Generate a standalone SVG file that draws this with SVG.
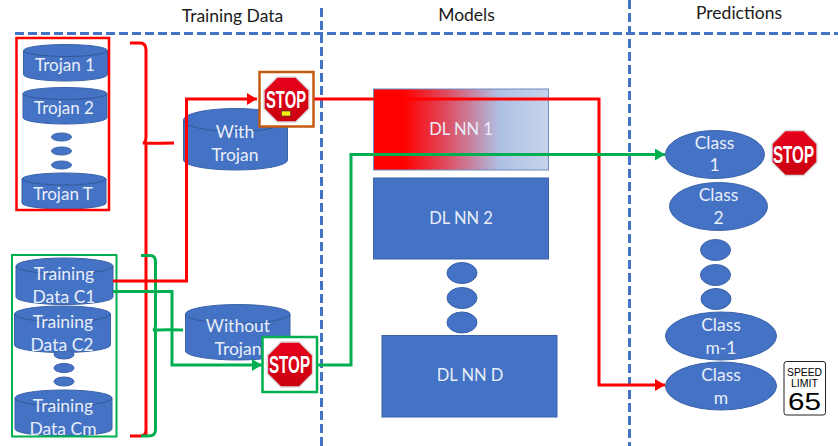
<svg xmlns="http://www.w3.org/2000/svg" width="838" height="446" viewBox="0 0 838 446">
<style>
text{font-family:Lato,"Liberation Sans",sans-serif}
.h{font-size:17.500px;fill:#1a1a1a;text-anchor:middle}
.t{font-size:17.500px;fill:#e8eefa;text-anchor:middle}
.m{font-size:16.500px}
.j{font-size:17px}
.b{fill:#4472C4;stroke:#3A62A8;stroke-width:1}
.lid{fill:none;stroke:#2F528F;stroke-width:.8}
.dash{fill:none;stroke:#4472C4;stroke-width:3;stroke-dasharray:9 4}
.r{fill:none;stroke:#FF0000;stroke-width:3}
.g{fill:none;stroke:#00B050;stroke-width:3}
.st{font-family:"Liberation Sans",sans-serif;font-weight:700;fill:#fff;text-anchor:middle;font-size:23px}
.sl{font-family:"Liberation Sans",sans-serif;fill:#000;text-anchor:middle}
</style>
<defs>
<marker id="ar" markerUnits="userSpaceOnUse" markerWidth="11" markerHeight="12" refX="10" refY="6" orient="auto"><path d="M0 0L10 6L0 12Z" fill="#FF0000"/></marker>
<marker id="ag" markerUnits="userSpaceOnUse" markerWidth="11" markerHeight="12" refX="10" refY="6" orient="auto"><path d="M0 0L10 6L0 12Z" fill="#00B050"/></marker>
<linearGradient id="nn" x1="0" x2="1" y1="0" y2="0"><stop offset=".17" stop-color="#FF0000"/><stop offset=".42" stop-color="#DE4D62"/><stop offset=".72" stop-color="#AEC0E5"/><stop offset="1" stop-color="#C6D3EB"/></linearGradient>
<linearGradient id="sr" x1="0" x2="0" y1="0" y2="1"><stop offset="0" stop-color="#E8001C"/><stop offset="1" stop-color="#C9000F"/></linearGradient>
<symbol id="oct" viewBox="0 0 48 48" overflow="visible"><path d="M14.500 1H33.500L47 14.500V33.500L33.500 47H14.500L1 33.500V14.500Z" fill="url(#sr)" stroke="#DADADA" stroke-width="1.500"/></symbol>
</defs>

<g id="dividers">
<path class="dash" d="M15 33.500H838"/>
<path class="dash" d="M321.500 8V446"/>
<path class="dash" d="M629.500 0V446"/>
</g>
<text class="h" x="232.500" y="22">Training Data</text>
<text class="h" x="466.500" y="21">Models</text>
<text class="h" x="739" y="19">Predictions</text>

<g id="trojan-1"><path class="b" d="M23.500 50.500A42 6 0 0 1 107.500 50.500V74.500A42 6.500 0 0 1 23.500 74.500Z"/><path class="lid" d="M23.500 50.500A42 6 0 0 0 107.500 50.500"/><text class="t j" x="65" y="71">Trojan 1</text></g>
<g id="trojan-2"><path class="b" d="M23 93.500A42 6 0 0 1 107 93.500V117.500A42 6.500 0 0 1 23 117.500Z"/><path class="lid" d="M23 93.500A42 6 0 0 0 107 93.500"/><text class="t j" x="64" y="114">Trojan 2</text></g>
<g id="trojan-dots"><ellipse class="b" cx="61.500" cy="137" rx="10" ry="4"/><ellipse class="b" cx="61.500" cy="151" rx="10" ry="4"/><ellipse class="b" cx="61.500" cy="165" rx="10" ry="4"/></g>
<g id="trojan-t"><path class="b" d="M22 179A42 6 0 0 1 106 179V203A42 6 0 0 1 22 203Z"/><path class="lid" d="M22 179A42 6 0 0 0 106 179"/><text class="t j" x="63" y="200">Trojan T</text></g>
<g id="trojan-box"><rect x="16.500" y="38" width="92.500" height="172" fill="none" stroke="#FF0000" stroke-width="2.500"/></g>

<g id="training-c1"><path class="b" d="M16 266A48.500 8 0 0 1 113 266V297A48.500 7.500 0 0 1 16 297Z"/><path class="lid" d="M16 266A48.500 8 0 0 0 113 266"/><text class="t" x="64" y="280">Training</text><text class="t" x="64" y="303">Data C1</text></g>
<g id="training-c2"><path class="b" d="M14.500 314A48 8 0 0 1 110.500 314V345A48 7.500 0 0 1 14.500 345Z"/><path class="lid" d="M14.500 314A48 8 0 0 0 110.500 314"/></g>
<g id="training-dots"><ellipse class="b" cx="64" cy="354.500" rx="10" ry="4.500"/><ellipse class="b" cx="64" cy="368" rx="10" ry="4.500"/><ellipse class="b" cx="64" cy="381.500" rx="10" ry="4.500"/></g>
<g id="training-c2-label"><text class="t" x="63" y="328">Training</text><text class="t" x="62" y="351">Data C2</text></g>
<g id="training-cm"><path class="b" d="M15 398A48.500 8 0 0 1 112 398V429A48.500 7 0 0 1 15 429Z"/><path class="lid" d="M15 398A48.500 8 0 0 0 112 398"/><text class="t" x="63" y="412">Training</text><text class="t" x="63" y="435">Data Cm</text></g>
<g id="training-box"><rect x="12" y="255" width="104.500" height="181.500" fill="none" stroke="#00B050" stroke-width="2"/></g>

<g id="with-trojan"><path class="b" d="M183.500 120A52 11.500 0 0 1 287.500 120V160A52 10 0 0 1 183.500 160Z"/><path class="lid" d="M183.500 120A52 11.500 0 0 0 287.500 120"/><text class="t" x="235" y="138">With</text><text class="t" x="235" y="161">Trojan</text></g>
<g id="without-trojan"><path class="b" d="M185.500 314A52.250 9.500 0 0 1 290 314V351A52.250 9 0 0 1 185.500 351Z"/><path class="lid" d="M185.500 314A52.250 9.500 0 0 0 290 314"/><text class="t" x="238" y="332">Without</text><text class="t" x="238" y="355">Trojan</text></g>

<g id="dl-nn-1"><rect x="373.500" y="89" width="175" height="81" fill="url(#nn)" stroke="#6F8CBF" stroke-width="1"/><text class="t m" x="461" y="135">DL NN 1</text></g>
<g id="dl-nn-2"><rect class="b" x="373.500" y="178" width="175" height="81"/><text class="t m" x="461" y="224">DL NN 2</text></g>
<g id="model-dots"><ellipse class="b" cx="462" cy="273" rx="15" ry="10.500"/><ellipse class="b" cx="462" cy="298" rx="15" ry="10.500"/><ellipse class="b" cx="462" cy="322.500" rx="15" ry="10.500"/></g>
<g id="dl-nn-d"><rect class="b" x="382" y="335.500" width="175" height="81.500"/><text class="t m" x="470" y="381">DL NN D</text></g>

<g id="class-1"><ellipse class="b" cx="715" cy="154.500" rx="49.500" ry="24"/><text class="t" x="714.500" y="149">Class</text><text class="t" x="714.500" y="171">1</text></g>
<g id="class-2"><ellipse class="b" cx="718.500" cy="206.500" rx="49" ry="24"/><text class="t" x="718.500" y="201">Class</text><text class="t" x="718.500" y="224">2</text></g>
<g id="class-dots"><ellipse class="b" cx="715.500" cy="250" rx="15" ry="10.500"/><ellipse class="b" cx="715.500" cy="275" rx="15" ry="10.500"/><ellipse class="b" cx="716" cy="299" rx="15" ry="10.500"/></g>
<g id="class-m-1"><ellipse class="b" cx="721" cy="336" rx="55.500" ry="24"/><text class="t" x="721" y="331">Class</text><text class="t" x="721" y="354">m-1</text></g>
<g id="class-m"><ellipse class="b" cx="721" cy="386" rx="55.500" ry="24"/><text class="t" x="721" y="381">Class</text><text class="t" x="721" y="404">m</text></g>

<g id="connectors">
<path class="r" d="M130 43H140Q146 43 146 50V137Q146 142.500 143 143Q146 143.500 174 143M146 143V436M146 430Q146 436 140 436H130"/>
<path class="g" d="M141 255.500H150Q155.500 255.500 155.500 262V326Q155.500 329.500 153 330.500Q156 329.500 183 330M155.500 331V430Q155.500 436 148 436H141"/>
<path class="r" d="M113 281H186.500V99H257" marker-end="url(#ar)"/>
<path class="g" d="M113 291.500H172V365H262" marker-end="url(#ag)"/>
<path class="r" d="M314 99H599V385H665" marker-end="url(#ar)"/>
<path class="g" d="M317 365H351V154.500H665" marker-end="url(#ag)"/>
</g>

<g id="stop-with"><rect x="259.500" y="72" width="54" height="54.500" fill="#fff" stroke="#C55A11" stroke-width="2.500"/><use href="#oct" x="263" y="76" width="47" height="47"/><text class="st" x="286" y="108" textLength="40" lengthAdjust="spacingAndGlyphs">STOP</text><rect x="281.500" y="111" width="9" height="5" fill="#FFF200" stroke="#444" stroke-width=".7"/></g>
<g id="stop-without"><rect x="262.500" y="337" width="54.500" height="55" fill="#fff" stroke="#00B050" stroke-width="2.500"/><use href="#oct" x="266.500" y="341" width="47" height="47"/><text class="st" x="289.500" y="373" textLength="41" lengthAdjust="spacingAndGlyphs">STOP</text></g>
<g id="stop-class"><use href="#oct" x="771" y="129.500" width="47" height="47"/><text class="st" x="793.500" y="163" textLength="41" lengthAdjust="spacingAndGlyphs">STOP</text></g>
<g id="speed-limit"><rect x="784" y="361.500" width="41.500" height="53.500" rx="2.500" fill="#fff" stroke="#222" stroke-width="1"/><text class="sl" x="804.500" y="376" font-size="10.500" textLength="35" lengthAdjust="spacingAndGlyphs">SPEED</text><text class="sl" x="804.500" y="387" font-size="10.500" textLength="27" lengthAdjust="spacingAndGlyphs">LIMIT</text><text class="sl" x="804.500" y="409.500" font-size="24" textLength="33" lengthAdjust="spacingAndGlyphs">65</text></g>
</svg>
